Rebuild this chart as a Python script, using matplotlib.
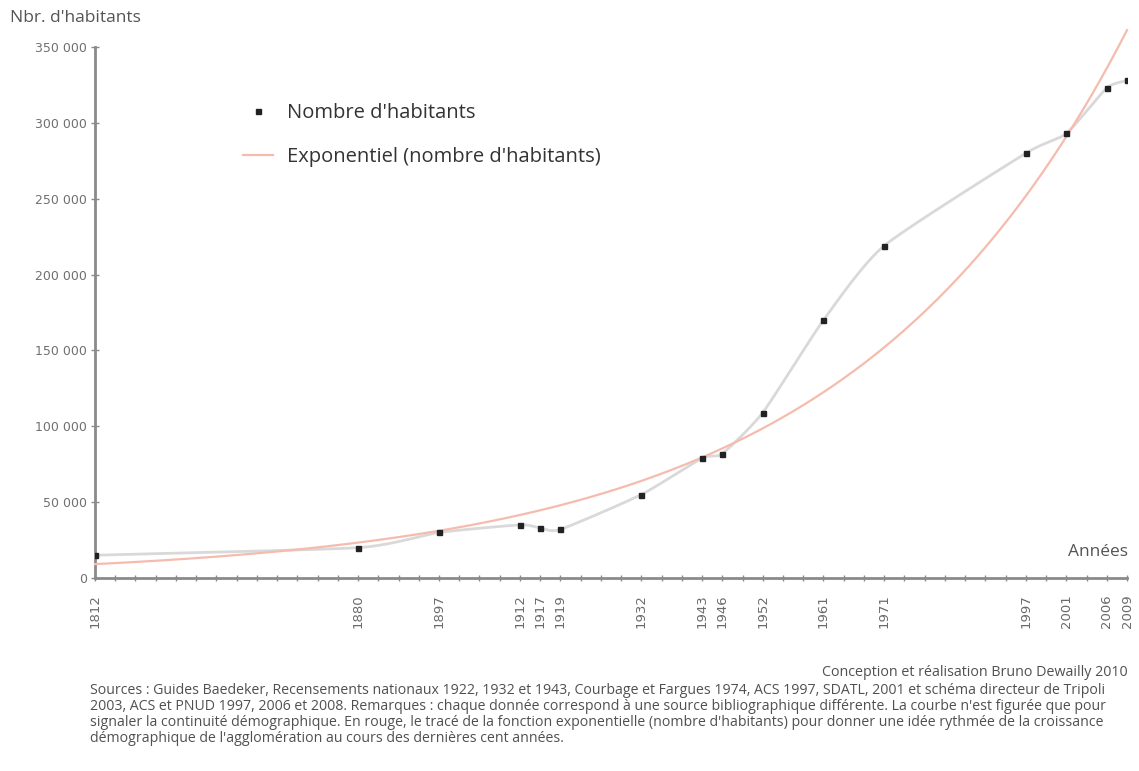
import numpy as np
import matplotlib
matplotlib.use("Agg")
import matplotlib.pyplot as plt
from matplotlib.ticker import FuncFormatter
from matplotlib.lines import Line2D

# ---------------- data ----------------
years = [1812, 1880, 1897, 1912, 1917, 1919, 1932, 1943, 1946, 1952,
         1961, 1971, 1997, 2001, 2006, 2009]
habitants = [15000, 20000, 30000, 35000, 33000, 32000, 55000, 79000, 82000,
             109000, 170000, 219000, 280000, 293000, 323000, 328000]
y_ticks = [0, 50000, 100000, 150000, 200000, 250000, 300000, 350000]

# axis construction: the year axis is compressed (tick slot of each labelled year)
axis_years = years
axis_slots = [0, 13, 17, 21, 22, 23, 27, 30, 31, 33, 36, 39, 46, 48, 50, 51]
n_slots = 51

FONT = "Open Sans"
plt.rcParams["font.family"] = [FONT, "DejaVu Sans"]

fig = plt.figure(figsize=(11.39, 7.71), dpi=100)
L, R = 95 / 1139, 1127 / 1139
B = (771 - 578) / 771
top_px = 578 - 362000 * (531 / 350000)
T = (771 - top_px) / 771
ax = fig.add_axes([L, B, R - L, T - B])

x = np.interp(years, axis_years, axis_slots)
y = np.array(habitants, dtype=float)


def catmull_rom(px, py, n=30):
    px = np.asarray(px, float); py = np.asarray(py, float)
    P = np.column_stack([px, py])
    P = np.vstack([P[0] - (P[1] - P[0]), P, P[-1] + (P[-1] - P[-2])])
    out = []
    for i in range(1, len(P) - 2):
        p0, p1, p2, p3 = P[i - 1], P[i], P[i + 1], P[i + 2]
        t = np.linspace(0, 1, n)[:, None]
        m1 = (p2 - p0) / 2 * 0.6
        m2 = (p3 - p1) / 2 * 0.6
        h00 = 2 * t**3 - 3 * t**2 + 1
        h10 = t**3 - 2 * t**2 + t
        h01 = -2 * t**3 + 3 * t**2
        h11 = t**3 - t**2
        out.append(h00 * p1 + h10 * m1 + h01 * p2 + h11 * m2)
    C = np.vstack(out)
    return C[:, 0], C[:, 1]


GREY_LINE = "#d9d9d9"
RED = "#f5bcae"

sx, sy = catmull_rom(x, y)
ax.plot(sx, sy, color=GREY_LINE, lw=2.0, zorder=2)

# exponential trend (least squares on log values)
b, a = np.polyfit(x, np.log(y), 1)
tx = np.linspace(0, n_slots, 300)
ty = np.exp(a + b * tx)
ax.plot(tx, ty, color=RED, lw=1.6, zorder=3, clip_on=False)

ax.plot(x, y, linestyle="none", marker="s", ms=3.6, color="#222222", zorder=4)

ax.set_xlim(0, n_slots)
ax.set_ylim(0, 362000)
for s in ["top", "right"]:
    ax.spines[s].set_visible(False)
for s in ["left", "bottom"]:
    ax.spines[s].set_color("#8a8a8a")
    ax.spines[s].set_linewidth(2.0)
ax.spines["left"].set_bounds(0, 350000)

ax.set_yticks(y_ticks)
ax.yaxis.set_major_formatter(FuncFormatter(lambda v, p: f"{int(v):,}".replace(",", " ")))
ax.tick_params(axis="y", direction="inout", length=6, width=1, color="#8a8a8a",
               labelsize=9, labelcolor="#707070", pad=3)
for lab in ax.get_yticklabels():
    lab.set_family(["DejaVu Sans"])

ax.set_xticks(np.arange(0, n_slots + 1), minor=True)
ax.set_xticks(axis_slots)
ax.set_xticklabels([str(v) for v in axis_years], rotation=90)
ax.tick_params(axis="x", which="both", direction="inout", length=5, width=1,
               color="#8a8a8a", labelsize=9.5, labelcolor="#6a6a6a", pad=9)
for lab in ax.get_xticklabels():
    lab.set_family(["DejaVu Sans"])

fig.text(10 / 1139, 1 - 18 / 771, "Nbr. d'habitants", fontsize=12.5, color="#555555",
         va="center", ha="left")
fig.text(1128 / 1139, 1 - 552 / 771, "Années", fontsize=12.5, color="#555555",
         va="center", ha="right")

handles = [Line2D([], [], linestyle="none", marker="s", ms=3.6, color="#222222"),
           Line2D([], [], color=RED, lw=1.6)]
fig.legend(handles, ["Nombre d'habitants", "Exponentiel (nombre d'habitants)"],
           loc="upper left", bbox_to_anchor=(225 / 1139, 1 - 85 / 771), frameon=False,
           fontsize=14.5, labelcolor="#333333", handlelength=1.5, handletextpad=0.7,
           labelspacing=1.2)

fig.text(1128 / 1139, 1 - 672 / 771, "Conception et réalisation Bruno Dewailly 2010",
         fontsize=10.3, color="#505050", ha="right", va="center")

foot = [
    "Sources : Guides Baedeker, Recensements nationaux 1922, 1932 et 1943, Courbage et Fargues 1974, ACS 1997, SDATL, 2001 et schéma directeur de Tripoli",
    "2003, ACS et PNUD 1997, 2006 et 2008. Remarques : chaque donnée correspond à une source bibliographique différente. La courbe n'est figurée que pour",
    "signaler la continuité démographique. En rouge, le tracé de la fonction exponentielle (nombre d'habitants) pour donner une idée rythmée de la croissance",
    "démographique de l'agglomération au cours des dernières cent années.",
]
for i, line in enumerate(foot):
    fig.text(90 / 1139, 1 - (690 + 16 * i) / 771, line, fontsize=10.2, color="#505050",
             ha="left", va="center")

fig.savefig("out.png", dpi=100, facecolor="white")
